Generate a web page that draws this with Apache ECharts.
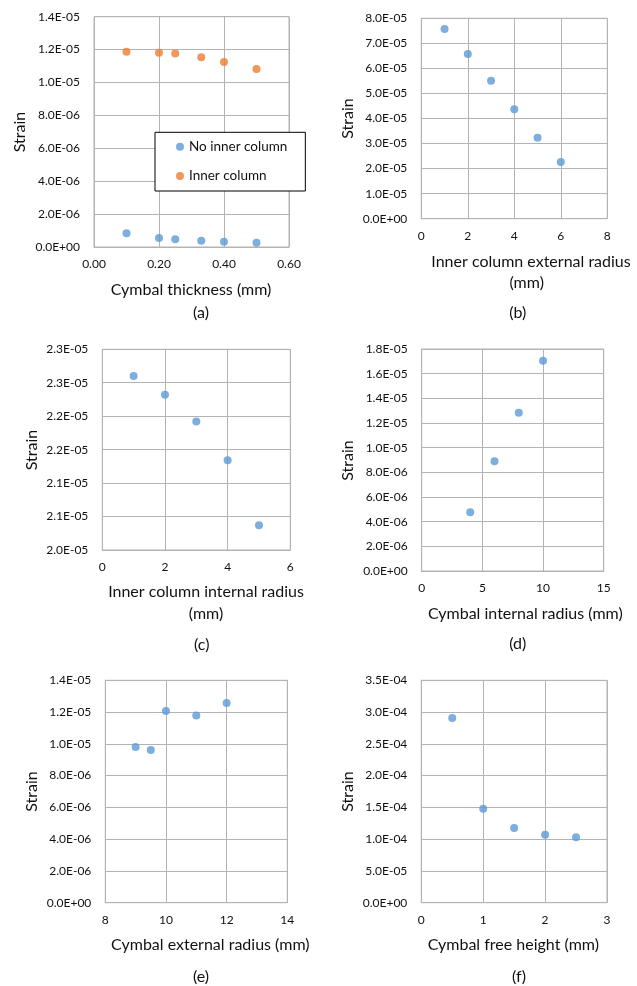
<!DOCTYPE html>
<html>
<head>
<meta charset="utf-8">
<script src="https://cdn.jsdelivr.net/npm/echarts@6/dist/echarts.min.js"></script>
<style>
  html, body { margin: 0; padding: 0; background: #fff; }
  #chart { width: 637px; height: 986px; }
</style>
</head>
<body>
<div id="chart"></div>
<script>
// (a) cymbal thickness
const thicknessX = [0.1, 0.2, 0.25, 0.33, 0.4, 0.5];
const noInnerStrain = [8.3e-7, 5.5e-7, 4.7e-7, 3.8e-7, 3.2e-7, 2.6e-7];
const innerStrain = [1.187e-5, 1.181e-5, 1.177e-5, 1.153e-5, 1.125e-5, 1.082e-5];
// (b) inner column external radius
const colExtX = [1, 2, 3, 4, 5, 6];
const colExtStrain = [7.57e-5, 6.57e-5, 5.51e-5, 4.37e-5, 3.23e-5, 2.26e-5];
// (c) inner column internal radius
const colIntX = [1, 2, 3, 4, 5];
const colIntStrain = [2.260e-5, 2.232e-5, 2.192e-5, 2.134e-5, 2.037e-5];
// (d) cymbal internal radius
const cymIntX = [4, 6, 8, 10];
const cymIntStrain = [4.76e-6, 8.89e-6, 1.284e-5, 1.705e-5];
// (e) cymbal external radius
const cymExtX = [9, 9.5, 10, 11, 12];
const cymExtStrain = [9.80e-6, 9.62e-6, 1.207e-5, 1.178e-5, 1.257e-5];
// (f) cymbal free height
const heightX = [0.5, 1, 1.5, 2, 2.5];
const heightStrain = [2.908e-4, 1.48e-4, 1.176e-4, 1.071e-4, 1.03e-4];

const seriesNames = ['No inner column', 'Inner column'];
const xTitles = [
  ['Cymbal thickness (mm)'],
  ['Inner column external radius', '(mm)'],
  ['Inner column internal radius', '(mm)'],
  ['Cymbal internal radius (mm)'],
  ['Cymbal external radius (mm)'],
  ['Cymbal free height (mm)']
];
const panelLabels = ['(a)', '(b)', '(c)', '(d)', '(e)', '(f)'];
const yTitle = 'Strain';

const FONT = 'Lato, "Noto Sans", sans-serif';
const TXT = '#111';
const BLUE = '#5B9BD5';
const ORANGE = '#ED7D31';
const GRID = '#B3B3B3';

// Excel style 0.0E+00
function sci(v) {
  if (Math.abs(v) < 1e-20) return '0.0E+00';
  let e = Math.floor(Math.log10(Math.abs(v)));
  let m = v / Math.pow(10, e);
  m = Math.round(m * 10 + 1e-6) / 10;
  if (m >= 10) { m = m / 10; e += 1; }
  return m.toFixed(1) + 'E' + (e < 0 ? '-' : '+') + String(Math.abs(e)).padStart(2, '0');
}

// layout of each panel: plot box, axis ranges, title positions
const panels = [
  { box: [94, 16.7, 195, 230.3], x: [0, 0.6, 0.2], y: [0, 1.4e-5, 2e-6], xfmt: v => v.toFixed(2),
    strain: [20, 132], titles: [[191, 290]], label: [201, 312.5] },
  { box: [421.3, 18.3, 186, 200.4], x: [0, 8, 2], y: [0, 8e-5, 1e-5],
    strain: [348.3, 118.5], titles: [[531, 261.5], [526.7, 283]], label: [517.7, 312.5] },
  { box: [102.3, 349.3, 188, 200.7], x: [0, 6, 2], y: [2e-5, 2.3e-5, 5e-7],
    strain: [31.7, 450], titles: [[206, 592.3], [206, 614]], label: [201.7, 644.5] },
  { box: [421.7, 349, 182, 222], x: [0, 15, 5], y: [0, 1.8e-5, 2e-6],
    strain: [348.3, 460.5], titles: [[525.3, 614]], label: [517.7, 643.5] },
  { box: [105.3, 680.3, 182, 222.4], x: [8, 14, 2], y: [0, 1.4e-5, 2e-6],
    strain: [31.7, 791.5], titles: [[210.3, 945.3]], label: [201, 976.7] },
  { box: [421.3, 680.3, 185.7, 222.4], x: [0, 3, 1], y: [0, 3.5e-4, 5e-5],
    strain: [348.3, 791.5], titles: [[513.3, 945.3]], label: [519, 976.7] }
];

const grids = [], xAxes = [], yAxes = [], graphics = [];
panels.forEach((p, i) => {
  grids.push({
    left: p.box[0], top: p.box[1], width: p.box[2], height: p.box[3],
    show: true, borderColor: GRID, borderWidth: 1, backgroundColor: 'transparent',
    containLabel: false, outerBoundsMode: 'none'
  });
  xAxes.push({
    type: 'value', gridIndex: i, min: p.x[0], max: p.x[1], interval: p.x[2],
    axisLine: { show: true, lineStyle: { color: GRID } },
    axisTick: { show: false },
    splitLine: { show: true, lineStyle: { color: GRID, width: 1 } },
    axisLabel: { color: TXT, fontFamily: FONT, fontSize: 12, margin: 11,
      formatter: p.xfmt || (v => String(v)) }
  });
  yAxes.push({
    type: 'value', gridIndex: i, min: p.y[0], max: p.y[1], interval: p.y[2],
    axisLine: { show: true, lineStyle: { color: GRID } },
    axisTick: { show: false },
    splitLine: { show: true, lineStyle: { color: GRID, width: 1 } },
    axisLabel: { color: TXT, fontFamily: FONT, fontSize: 12, margin: 14, formatter: sci }
  });
  graphics.push({
    type: 'text', x: p.strain[0], y: p.strain[1], rotation: Math.PI / 2,
    style: { text: yTitle, fill: TXT, font: '16px ' + FONT, textAlign: 'center', textVerticalAlign: 'middle' }
  });
  p.titles.forEach((t, k) => {
    graphics.push({
      type: 'text', x: t[0], y: t[1],
      style: { text: xTitles[i][k], fill: TXT, font: '16px ' + FONT, textAlign: 'center', textVerticalAlign: 'middle' }
    });
  });
  graphics.push({
    type: 'text', x: p.label[0], y: p.label[1],
    style: { text: panelLabels[i], fill: TXT, font: '16px ' + FONT, textAlign: 'center', textVerticalAlign: 'middle' }
  });
});

const pairs = (xs, ys) => xs.map((x, k) => [x, ys[k]]);
const dot = (name, idx, data, color) => ({
  name: name, type: 'scatter', xAxisIndex: idx, yAxisIndex: idx,
  symbol: 'circle', symbolSize: 8, itemStyle: { color: color },
  data: data, silent: true
});

const chart = echarts.init(document.getElementById('chart'), null, { renderer: 'canvas' });
chart.setOption({
  animation: false,
  backgroundColor: '#fff',
  textStyle: { fontFamily: FONT },
  grid: grids,
  xAxis: xAxes,
  yAxis: yAxes,
  legend: {
    data: seriesNames, orient: 'vertical', left: 155, top: 132.3,
    backgroundColor: '#fff', borderColor: '#000', borderWidth: 1,
    padding: [7.4, 18, 8, 21], itemGap: 15.3, itemWidth: 8, itemHeight: 8, itemTextGap: 5,
    icon: 'circle',
    textStyle: { color: TXT, fontFamily: FONT, fontSize: 13.5, lineHeight: 14 }
  },
  graphic: graphics,
  series: [
    dot(seriesNames[0], 0, pairs(thicknessX, noInnerStrain), BLUE),
    dot(seriesNames[1], 0, pairs(thicknessX, innerStrain), ORANGE),
    dot('b', 1, pairs(colExtX, colExtStrain), BLUE),
    dot('c', 2, pairs(colIntX, colIntStrain), BLUE),
    dot('d', 3, pairs(cymIntX, cymIntStrain), BLUE),
    dot('e', 4, pairs(cymExtX, cymExtStrain), BLUE),
    dot('f', 5, pairs(heightX, heightStrain), BLUE)
  ]
});
</script>
</body>
</html>
